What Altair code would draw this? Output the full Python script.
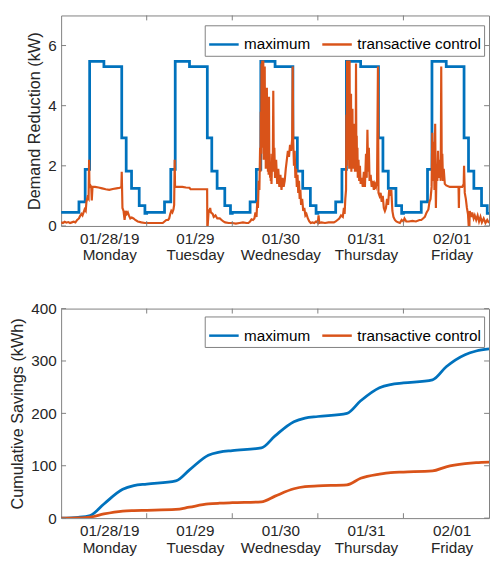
import altair as alt
import pandas as pd

# ---------------- data ----------------
SERIES = ["maximum", "transactive control"]
COLORS = ["#0072BD", "#D95319"]
DATES = ["01/28/19", "01/29", "01/30", "01/31", "02/01"]
WEEKDAYS = ["Monday", "Tuesday", "Wednesday", "Thursday", "Friday"]
Y1_TICKS = [0, 2, 4, 6]
Y2_TICKS = [0, 100, 200, 300, 400]

# maximum demand reduction: the same hourly step profile on every weekday
MAX_HOURS = [0, 5, 6.75, 8, 12, 17, 18.25, 19.75, 21.9, 23.5]
MAX_KW = [0.45, 0.8, 1.88, 5.47, 5.3, 2.93, 1.82, 1.25, 0.68, 0.42]

# transactive control demand reduction, one list per day (hour of day, kW)
MON_H = [0, 0.5, 1, 1.5, 2, 2.5, 3, 3.5, 4, 4.5, 5, 5.3, 5.7, 6, 6.3, 6.6, 6.9, 7.1, 7.4, 7.7,
         7.85, 7.95, 8.2, 8.45, 8.6, 8.8, 9.5, 10.5, 11.5, 12.5, 13.5, 14.5, 15.5, 16.5, 16.9, 17.0,
         17.2, 17.5, 17.8, 18.1, 18.4, 18.7, 19.0, 19.4, 19.8, 20.3, 20.8, 21.5, 22.5, 23.5]
MON_KW = [0.12, 0.10, 0.14, 0.11, 0.13, 0.10, 0.12, 0.14, 0.12, 0.2, 0.25, 0.33, 0.4, 0.35, 0.45,
          0.55, 0.5, 0.8, 0.95, 0.9, 2.2, 1.3, 1.35, 1.3, 0.85, 1.3, 1.3, 1.28, 1.25, 1.22, 1.2,
          1.23, 1.25, 1.27, 1.3, 1.8, 0.6, 0.5, 0.2, 0.5, 0.4, 0.45, 0.35, 0.25, 0.28, 0.25, 0.2,
          0.15, 0.12, 0.1]

TUE_H = [0, 1, 2, 3, 4, 4.5, 5.0, 5.5, 6.0, 6.3, 6.6, 6.9, 7.2, 7.5, 7.7, 7.85, 7.95, 9, 10, 11,
         12, 12.3, 13, 15, 16.95, 17.0, 17.1, 17.4, 17.7, 17.8, 18.0, 18.5, 18.8, 19.3, 19.8, 20.5,
         21.0, 21.5, 22.0, 23.0]
TUE_KW = [0.1, 0.1, 0.1, 0.1, 0.1, 0.1, 0.15, 0.2, 0.2, 0.25, 0.4, 0.5, 0.45, 0.55, 0.7, 2.2, 1.3,
          1.3, 1.3, 1.28, 1.27, 1.22, 1.22, 1.22, 1.22, 0.0, 0.0, 0.55, 0.45, 0.6, 0.45, 0.4, 0.3,
          0.35, 0.25, 0.25, 0.2, 0.15, 0.12, 0.1]

WED_H = [0, 1, 2, 3, 4, 4.5, 5.0, 5.4, 5.8, 6.2, 6.5, 6.8, 7.0, 7.2, 7.4, 7.6, 7.8, 7.9, 8.0, 8.1,
         8.2, 8.3, 8.4, 8.5, 8.6, 8.7, 8.8, 8.9, 9.0, 9.1, 9.2, 9.3, 9.4, 9.5, 9.6, 9.7, 9.8, 9.9,
         10.0, 10.1, 10.2, 10.3, 10.4, 10.5, 10.6, 10.7, 10.8, 10.9, 11.0, 11.2, 11.35, 11.5, 11.65,
         11.8, 12.0, 12.3, 12.6, 12.9, 13.2, 13.5, 13.8, 14.1, 14.4, 14.7, 15.0, 15.3, 15.6, 15.9,
         16.2, 16.5, 16.8, 16.95, 17.1, 17.3, 17.5, 17.7, 17.9, 18.1, 18.3, 18.5, 18.7, 18.9, 19.1,
         19.3, 19.6, 19.9, 20.2, 20.5, 20.8, 21.2, 21.6, 22.0, 22.5, 23.0, 23.5]
WED_KW = [0.1, 0.08, 0.1, 0.12, 0.1, 0.1, 0.15, 0.22, 0.2, 0.25, 0.45, 0.3, 0.8, 0.6, 1.5, 1.2, 2.6,
          1.8, 3.8, 2.4, 5.4, 3.0, 5.5, 2.6, 4.4, 5.5, 2.2, 4.8, 3.0, 5.3, 2.4, 4.0, 1.9, 3.6, 2.2,
          4.6, 2.0, 3.3, 1.8, 3.8, 1.7, 4.3, 1.9, 2.4, 1.6, 2.1, 1.5, 2.0, 1.4, 2.4, 1.8, 4.5, 2.0,
          2.6, 1.6, 2.2, 1.4, 1.9, 1.3, 1.7, 1.2, 1.6, 1.3, 1.5, 1.9, 2.2, 2.5, 2.3, 2.7, 2.5, 2.9,
          5.3, 2.8, 2.0, 2.5, 1.6, 1.9, 1.3, 1.7, 1.1, 1.5, 0.9, 1.2, 0.7, 0.9, 0.5, 0.6, 0.35, 0.4,
          0.25, 0.15, 0.1, 0.12, 0.1, 0.15]

THU_H = [0, 0.2, 0.4, 1, 2, 3, 4, 4.5, 5.0, 5.5, 6.0, 6.5, 7.0, 7.3, 7.5, 7.7, 7.9, 8.0, 8.1, 8.2,
         8.3, 8.4, 8.5, 8.6, 8.7, 8.8, 8.9, 9.0, 9.1, 9.2, 9.3, 9.4, 9.5, 9.6, 9.7, 9.8, 9.9, 10.0,
         10.1, 10.2, 10.3, 10.4, 10.5, 10.6, 10.7, 10.8, 10.9, 11.0, 11.1, 11.2, 11.4, 11.6, 11.8,
         12.0, 12.3, 12.6, 12.9, 13.2, 13.5, 13.7, 13.9, 14.1, 14.3, 14.5, 14.8, 15.1, 15.4, 15.7,
         16.0, 16.3, 16.6, 16.85, 17.0, 17.3, 17.6, 17.9, 18.2, 18.5, 18.8, 19.1, 19.4, 19.7, 20.0,
         20.3, 20.6, 20.9, 21.2, 21.6, 22.0, 22.5, 23.0, 23.5]
THU_KW = [0.1, 0.35, 0.1, 0.12, 0.1, 0.12, 0.12, 0.12, 0.15, 0.2, 0.25, 0.35, 0.3, 0.6, 0.4, 0.9,
          1.2, 3.7, 2.0, 5.5, 2.5, 4.2, 5.5, 2.2, 3.8, 1.9, 5.5, 2.4, 3.6, 2.0, 4.4, 1.8, 3.2, 2.0,
          3.9, 2.1, 3.0, 1.9, 3.4, 2.0, 2.8, 1.8, 2.5, 2.0, 5.4, 2.2, 3.0, 1.8, 2.6, 1.6, 2.2, 1.5,
          2.0, 1.4, 1.6, 1.3, 1.8, 1.3, 2.4, 1.6, 3.2, 1.8, 2.6, 1.5, 1.7, 1.3, 1.5, 1.2, 1.4, 1.3,
          1.5, 5.3, 1.1, 1.0, 1.1, 0.8, 1.0, 0.6, 0.5, 0.6, 0.9, 0.7, 1.2, 1.0, 1.2, 0.5, 0.3, 0.2,
          0.15, 0.12, 0.1, 0.2]

FRI_H = [0, 0.3, 0.8, 1.5, 2.5, 3.5, 4.5, 5.0, 5.5, 6.0, 6.5, 7.0, 7.3, 7.6, 7.9, 8.1, 8.3, 8.5,
         8.7, 8.9, 9.1, 9.3, 9.5, 9.7, 9.9, 10.2, 10.45, 10.6, 10.75, 10.9, 11.1, 11.3, 11.6, 12, 13,
         14, 15, 15.45, 15.55, 15.65, 16.0, 16.5, 16.9, 17.0, 17.2, 17.5, 17.8, 18.1, 18.3, 18.5,
         18.6, 19.0, 19.3, 19.7, 20.0, 20.4, 20.8, 21.2, 21.6, 22.0, 22.5, 23.0, 23.5, 24.0]
FRI_KW = [0.15, 0.25, 0.15, 0.15, 0.17, 0.15, 0.2, 0.2, 0.25, 0.3, 0.45, 0.55, 0.8, 0.9, 1.3, 3.1,
          1.5, 2.8, 1.2, 3.4, 0.6, 2.0, 1.5, 2.5, 1.6, 2.2, 1.5, 5.3, 1.8, 2.4, 1.5, 1.9, 1.4, 1.35,
          1.3, 1.3, 1.3, 1.3, 0.6, 1.3, 1.3, 1.3, 1.4, 2.0, 1.1, 0.9, 0.6, 0.4, 0.0, 0.0, 0.5, 0.3,
          0.45, 0.25, 0.35, 0.2, 0.35, 0.15, 0.3, 0.12, 0.25, 0.1, 0.2, 0.1]

# cumulative savings (time in days since Monday 00:00, kWh)
CUM_DAYS = [0, 0.2, 0.34, 0.5, 0.72, 0.85, 1.0, 1.34, 1.5, 1.72, 1.85, 2.0, 2.34, 2.5, 2.72, 2.85,
            3.0, 3.34, 3.5, 3.72, 3.85, 4.0, 4.34, 4.5, 4.72, 4.85, 5.0]
CUM_MAX = [0, 1.5, 5, 27, 55, 62, 65, 71, 92, 120, 126, 129, 134, 157, 184, 191, 194, 200, 224, 249,
           255, 258, 264, 289, 312, 319, 323]
CUM_TC = [0, 0.5, 2, 8, 13.5, 14.5, 15, 16.5, 21, 27, 28.5, 29.5, 31, 42, 56, 60, 61.5, 63.5, 76,
          84, 87, 88, 90, 98, 104, 106, 107]

# ---------------- tables ----------------
rows = []
for d in range(len(DATES)):
    for h, v in zip(MAX_HOURS, MAX_KW):
        rows.append({"hour": 24 * d + h, "kw": v, "series": SERIES[0]})
rows.append({"hour": 24 * len(DATES), "kw": MAX_KW[-1], "series": SERIES[0]})
max_df = pd.DataFrame(rows)

rows = []
for d, (hs, vs) in enumerate([(MON_H, MON_KW), (TUE_H, TUE_KW), (WED_H, WED_KW),
                              (THU_H, THU_KW), (FRI_H, FRI_KW)]):
    assert len(hs) == len(vs)
    for h, v in zip(hs, vs):
        rows.append({"hour": 24 * d + h, "kw": v, "series": SERIES[1]})
tc_df = pd.DataFrame(rows)

n = len(CUM_DAYS)
cum_df = pd.DataFrame({
    "hour": [t * 24 for t in CUM_DAYS] * 2,
    "kwh": CUM_MAX + CUM_TC,
    "series": [SERIES[0]] * n + [SERIES[1]] * n,
})

# ---------------- styling ----------------
W, H1, H2 = 435, 214, 213
TICK = 5
AX = "#808080"
TXT = "#262626"
FONT = "Liberation Sans"
LBL = 15.5
TTL = 16.5

label_pairs = "[" + ",".join(f"['{a}','{b}']" for a, b in zip(DATES, WEEKDAYS)) + "]"
label_expr = f"{label_pairs}[floor(datum.value/24)]"

xt_df = pd.DataFrame({"hour": [24 * i for i in range(1, len(DATES))]})


def x_enc():
    return alt.X(
        "hour:Q",
        scale=alt.Scale(domain=[0, 24 * len(DATES)], nice=False, zero=False),
        axis=alt.Axis(values=[24 * i + 13.5 for i in range(len(DATES))], labelExpr=label_expr,
                      tickSize=0, domain=False, grid=False, title=None, labelPadding=6,
                      labelAngle=0, labelFlush=False, labelOverlap=False, labelLineHeight=16.5,
                      labelBaseline="top", labelFontSize=LBL),
    )


def y_enc(field, dom, ticks, title):
    return alt.Y(
        f"{field}:Q",
        scale=alt.Scale(domain=dom, nice=False, zero=False),
        axis=alt.Axis(values=ticks, tickSize=0, domain=False, grid=False, title=title,
                      labelPadding=5, titlePadding=5, labelFontSize=LBL, titleFontSize=TTL),
    )


color_scale = alt.Scale(domain=SERIES, range=COLORS)


def legend(ly):
    return alt.Legend(title=None, orient="none", legendX=146, legendY=ly, direction="horizontal",
                      symbolType="stroke", symbolSize=900, symbolStrokeWidth=2.5,
                      labelFontSize=15.5, labelFont=FONT, labelColor="black", labelOffset=4,
                      columnPadding=6, padding=3, strokeColor=AX, fillColor="white",
                      cornerRadius=0)


def panel(df_layers, field, dom, ticks, title, height, ly):
    ye = y_enc(field, dom, ticks, title)
    layers = []
    for df, interp, sw in df_layers:
        layers.append(
            alt.Chart(df).mark_line(interpolate=interp, strokeWidth=sw, clip=True).encode(
                x=x_enc(), y=ye,
                color=alt.Color("series:N", scale=color_scale, legend=legend(ly)),
            )
        )
    yt_df = pd.DataFrame({field: ticks})
    layers.append(alt.Chart(yt_df).mark_rule(color=AX, strokeWidth=1).encode(
        y=ye, x=alt.value(0), x2=alt.value(TICK)))
    layers.append(alt.Chart(yt_df).mark_rule(color=AX, strokeWidth=1).encode(
        y=ye, x=alt.value(W - TICK), x2=alt.value(W)))
    layers.append(alt.Chart(xt_df).mark_rule(color=AX, strokeWidth=1).encode(
        x=x_enc(), y=alt.value(0), y2=alt.value(TICK)))
    layers.append(alt.Chart(xt_df).mark_rule(color=AX, strokeWidth=1).encode(
        x=x_enc(), y=alt.value(height - TICK), y2=alt.value(height)))
    return alt.layer(*layers).properties(width=W, height=height)


top = panel([(max_df, "step-after", 2.8), (tc_df, "linear", 2.2)], "kw", [0, 7], Y1_TICKS,
            "Demand Reduction (kW)", H1, 10)
bottom = panel([(cum_df[cum_df.series == SERIES[0]], "monotone", 2.8),
                (cum_df[cum_df.series == SERIES[1]], "monotone", 2.8)],
               "kwh", [0, 400], Y2_TICKS, "Cumulative Savings (kWh)", H2, 8)

chart = (
    alt.vconcat(top, bottom, spacing=37)
    .resolve_scale(color="independent")
    .resolve_legend(color="independent")
    .properties(padding={"left": 1, "right": 0, "top": 2, "bottom": 0}, background="white")
    .configure_view(stroke=AX, strokeWidth=1)
    .configure_axis(labelFont=FONT, titleFont=FONT, labelColor=TXT, titleColor=TXT,
                    titleFontWeight="normal")
)

chart.save("out.html", embed_options={"renderer": "svg", "actions": False})
